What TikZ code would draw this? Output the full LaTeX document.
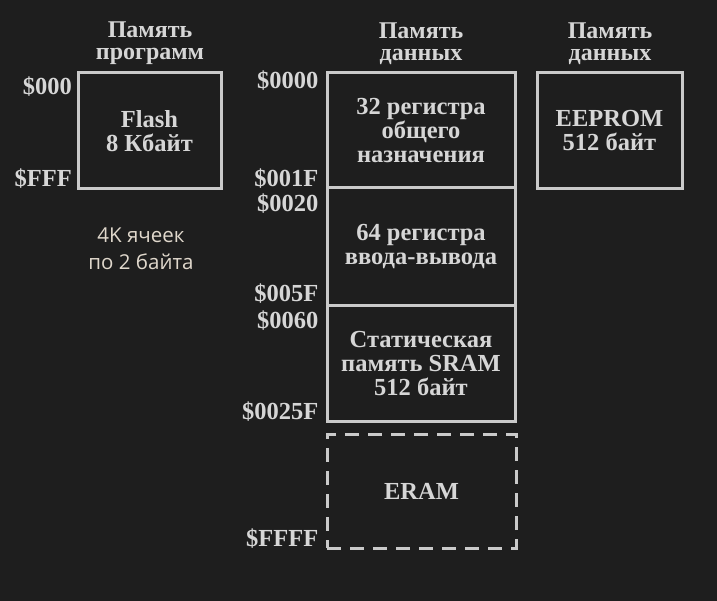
\documentclass[tikz,border=0pt]{standalone}
\usepackage{fontspec}
\setmainfont{Liberation Serif}
\newfontfamily\sansf{Open Sans}
\definecolor{bg}{HTML}{1E1E1E}
\definecolor{fg}{HTML}{D6D6D6}
\definecolor{ln}{HTML}{CACACA}
\definecolor{note}{HTML}{E0D8CC}
\tikzset{
  membox/.style={draw=ln, line width=3pt, inner sep=0pt, align=center, text=fg,
    font=\fontsize{24.5}{24}\selectfont\bfseries},
  title/.style={text=fg, align=center, inner sep=0pt, font=\fontsize{24}{22}\selectfont\bfseries},
  addr/.style={text=fg, anchor=east, inner sep=0pt, font=\fontsize{24.5}{22}\selectfont\bfseries},
  notetext/.style={text=note, align=center, inner sep=0pt, font=\sansf\fontsize{20.5}{27}\selectfont}
}
\begin{document}
\begin{tikzpicture}[x=1pt,y=-1pt]
\fill[bg] (0,0) rectangle (717,601);
\useasboundingbox (0,0) rectangle (717,601);
% titles
\node[title] (t1) at (150,43.5) {Память\\программ};
\node[title] (t2) at (421,43.5) {Память\\данных};
\node[title] (t3) at (610,43.5) {Память\\данных};
% program memory
\node[membox, minimum width=143pt, minimum height=116pt] (flash) at (149.5,131) {Flash\\8 Кбайт};
\node[addr] (a000) at (72,87) {\$000};
\node[addr] (afff) at (72,179) {\$FFF};
\node[notetext] (note) at (141,249) {4K ячеек\\по 2 байта};
% data memory
\node[membox, minimum width=188pt, minimum height=115pt] (gp) at (421,130.5) {32 регистра\\общего\\назначения};
\node[membox, minimum width=188pt, minimum height=118pt] (io) at (421,247) {64 регистра\\ввода-вывода};
\node[membox, minimum width=188pt, minimum height=115pt] (sram) at (421,363.5) {Статическая\\память SRAM\\512 байт};
\node[membox, dash pattern=on 14pt off 9pt, minimum width=189pt, minimum height=114pt] (eram) at (421.5,491) {ERAM};
\node[addr] (d0000) at (318.5,81) {\$0000};
\node[addr] (d001f) at (318.5,179) {\$001F};
\node[addr] (d0020) at (318.5,204) {\$0020};
\node[addr] (d005f) at (318.5,294) {\$005F};
\node[addr] (d0060) at (318.5,321) {\$0060};
\node[addr] (d025f) at (318.5,412) {\$0025F};
\node[addr] (dffff) at (318.5,539) {\$FFFF};
% eeprom
\node[membox, minimum width=145pt, minimum height=116pt] (eeprom) at (609.5,131) {EEPROM\\512 байт};
\end{tikzpicture}
\end{document}
